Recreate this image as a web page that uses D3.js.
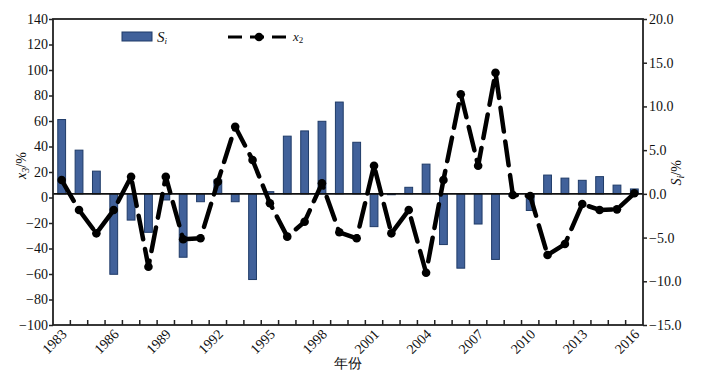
<!DOCTYPE html>
<html>
<head>
<meta charset="utf-8">
<script src="https://cdn.jsdelivr.net/npm/d3@7"></script>
<style>
  body { margin: 0; background: #fff; }
  text { font-family: "Liberation Serif", "DejaVu Serif", serif; }
</style>
</head>
<body>
<div id="chart-area"></div>
<script>
var years = [1983, 1984, 1985, 1986, 1987, 1988, 1989, 1990, 1991, 1992, 1993, 1994,
    1995, 1996, 1997, 1998, 1999, 2000, 2001, 2002, 2003, 2004, 2005, 2006,
    2007, 2008, 2009, 2010, 2011, 2012, 2013, 2014, 2015, 2016];

// Si (%) - bars, right axis
var siValues = [8.5, 5.0, 2.6, -9.2, -3.0, -4.4, -0.7, -7.25, -0.9, 1.6, -0.9, -9.8,
    0.25, 6.6, 7.2, 8.3, 10.5, 5.9, -3.75, -0.1, 0.75, 3.4, -5.8, -8.5,
    -3.45, -7.5, -0.3, -1.9, 2.15, 1.8, 1.55, 1.97, 1.0, 0.56];

// x2 (%) - dashed line, left axis
var x2Values = [13.7, -9.8, -28.1, -9.8, 16.3, -54.3, 16.3, -32.8, -32, 12.4, 55.5, 29.4,
    -4.5, -30.7, -19, 11.1, -27.3, -32, 24.9, -28.1, -9.8, -59, 13.7, 81,
    24.9, 97.9, 2.0, 1.2, -45.1, -36.5, -5.1, -9.8, -9.3, 3.3];

var leftTicks = [140, 120, 100, 80, 60, 40, 20, 0, -20, -40, -60, -80, -100];
var rightTicks = [20, 15, 10, 5, 0, -5, -10, -15];
var yearLabels = [1983, 1986, 1989, 1992, 1995, 1998, 2001, 2004, 2007, 2010, 2013, 2016];

var margin = { top: 19, right: 58, bottom: 52, left: 53 };
var width = 701 - margin.left - margin.right;
var height = 377 - margin.top - margin.bottom;

var svg = d3.select("#chart-area")
    .append("svg")
    .attr("width", 701)
    .attr("height", 377);

var g = svg.append("g")
    .attr("transform", "translate(" + margin.left + "," + margin.top + ")");

var x = d3.scaleBand().domain(years).range([0, width]).paddingInner(0.55).paddingOuter(0.275);
var xb = d3.scaleBand().domain(years).range([0, width]);
var yL = d3.scaleLinear().domain([-100, 140]).range([height, 0]);
var yR = d3.scaleLinear().domain([-15, 20]).range([height, 0]);

var minus = s => String(s).replace("-", "\u2212");

// bars
g.selectAll(".bar")
    .data(years)
    .enter()
    .append("rect")
    .attr("class", "bar")
    .attr("x", (d, i) => x(d))
    .attr("width", x.bandwidth())
    .attr("y", (d, i) => yR(Math.max(0, siValues[i])))
    .attr("height", (d, i) => Math.abs(yR(siValues[i]) - yR(0)))
    .attr("fill", "#41619a")
    .attr("stroke", "#1f3b68")
    .attr("stroke-width", 1);

// zero line
g.append("line")
    .attr("x1", 0).attr("x2", width)
    .attr("y1", yR(0)).attr("y2", yR(0))
    .attr("stroke", "#111")
    .attr("stroke-width", 1.8);

// dashed line
var line = d3.line()
    .x((d, i) => xb(years[i]) + xb.bandwidth() / 2)
    .y(d => yL(d));

g.append("path")
    .datum(x2Values)
    .attr("d", line)
    .attr("fill", "none")
    .attr("stroke", "#000")
    .attr("stroke-width", 4.5)
    .attr("stroke-dasharray", "24,10")
    .attr("stroke-linecap", "round")
    .attr("stroke-linejoin", "round");

g.selectAll(".pt")
    .data(x2Values)
    .enter()
    .append("circle")
    .attr("class", "pt")
    .attr("cx", (d, i) => xb(years[i]) + xb.bandwidth() / 2)
    .attr("cy", d => yL(d))
    .attr("r", 4.3)
    .attr("fill", "#000");

// frame
g.append("rect")
    .attr("width", width)
    .attr("height", height)
    .attr("fill", "none")
    .attr("stroke", "#222")
    .attr("stroke-width", 1.8);

// left axis
var leftAxis = g.append("g")
    .call(d3.axisLeft(yL).tickValues(leftTicks).tickSize(4).tickFormat(minus));
leftAxis.select(".domain").remove();
leftAxis.selectAll("line").attr("stroke", "#222").attr("stroke-width", 1.5);
leftAxis.selectAll("text")
    .attr("font-family", "Liberation Serif")
    .attr("font-size", "14px")
    .attr("fill", "#111")
    .attr("x", -5);

// right axis
var rightAxis = g.append("g")
    .attr("transform", "translate(" + width + ",0)")
    .call(d3.axisRight(yR).tickValues(rightTicks).tickSize(4)
        .tickFormat(d => minus(d3.format(".1f")(d))));
rightAxis.select(".domain").remove();
rightAxis.selectAll("line").attr("stroke", "#222").attr("stroke-width", 1.5);
rightAxis.selectAll("text")
    .attr("font-family", "Liberation Serif")
    .attr("font-size", "14px")
    .attr("fill", "#111")
    .attr("x", 6);

// bottom ticks (inward, at band edges)
g.selectAll(".xtick")
    .data(years.slice(1))
    .enter()
    .append("line")
    .attr("class", "xtick")
    .attr("x1", d => xb(d)).attr("x2", d => xb(d))
    .attr("y1", height).attr("y2", height - 5)
    .attr("stroke", "#222")
    .attr("stroke-width", 1.5);

g.selectAll(".xlabel")
    .data(yearLabels)
    .enter()
    .append("text")
    .attr("class", "xlabel")
    .attr("transform", d => "translate(" + (xb(d) + xb.bandwidth() / 2 + 6) + "," + (height + 10) + ") rotate(-45)")
    .attr("text-anchor", "end")
    .attr("font-size", "14px")
    .attr("fill", "#111")
    .text(d => d);

// axis titles
g.append("text")
    .attr("transform", "translate(" + (-27) + "," + (yL(0) - 32) + ") rotate(-90)")
    .attr("text-anchor", "middle")
    .attr("font-size", "14px")
    .attr("font-style", "italic")
    .attr("fill", "#111")
    .html('x<tspan font-size="10px" dy="3">3</tspan><tspan dy="-3" font-style="normal">/%</tspan>');

g.append("text")
    .attr("transform", "translate(" + (width + 38) + "," + (yR(0) - 21) + ") rotate(-90)")
    .attr("text-anchor", "middle")
    .attr("font-size", "14px")
    .attr("font-style", "italic")
    .attr("fill", "#111")
    .html('S<tspan font-size="10px" dy="3">i</tspan><tspan dy="-3" font-style="normal">/%</tspan>');

svg.append("text")
    .attr("x", 348)
    .attr("y", 368)
    .attr("text-anchor", "middle")
    .attr("font-family", "Noto Sans CJK SC")
    .attr("font-size", "14px")
    .attr("fill", "#111")
    .text("年份");

// legend
var legend = svg.append("g");
legend.append("rect")
    .attr("x", 122).attr("y", 32)
    .attr("width", 30).attr("height", 9)
    .attr("fill", "#41619a")
    .attr("stroke", "#1f3b68")
    .attr("stroke-width", 1);
legend.append("text")
    .attr("x", 157).attr("y", 42)
    .attr("font-size", "15px")
    .attr("font-style", "italic")
    .attr("fill", "#111")
    .html('S<tspan font-size="9px" dy="2">i</tspan>');

legend.append("line")
    .attr("x1", 228).attr("x2", 290)
    .attr("y1", 37).attr("y2", 37)
    .attr("stroke", "#000")
    .attr("stroke-width", 3)
    .attr("stroke-dasharray", "14,8");
legend.append("circle")
    .attr("cx", 259).attr("cy", 37).attr("r", 4.3)
    .attr("fill", "#000");
legend.append("text")
    .attr("x", 293).attr("y", 41)
    .attr("font-size", "13px")
    .attr("font-style", "italic")
    .attr("fill", "#111")
    .html('x<tspan font-size="9px" dy="2" font-style="normal">2</tspan>');
</script>
</body>
</html>
